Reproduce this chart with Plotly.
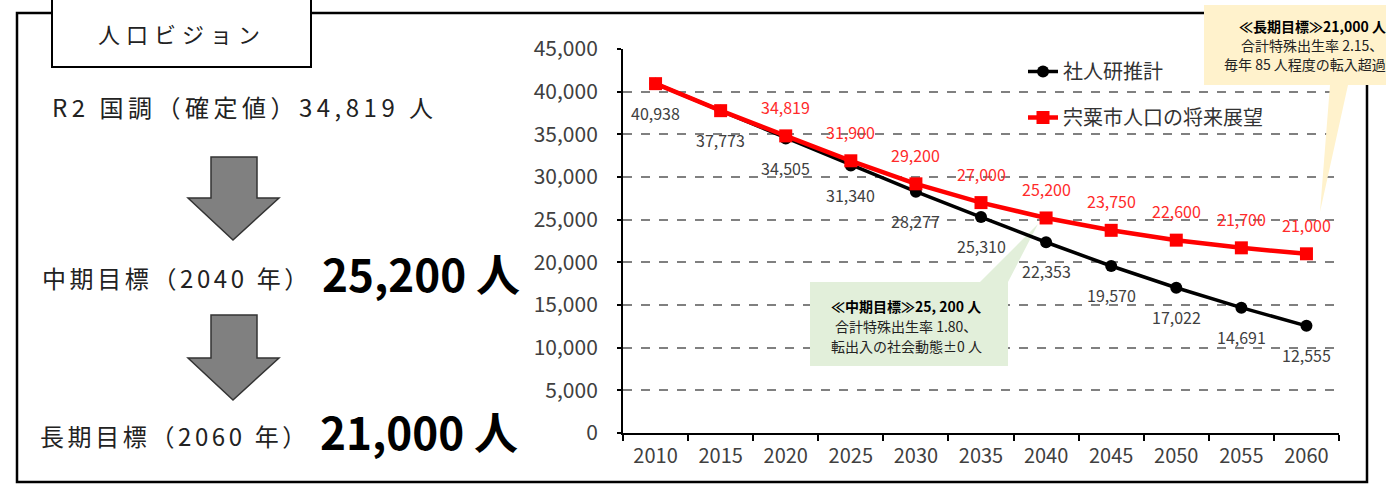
import plotly.graph_objects as go

years = ["2010", "2015", "2020", "2025", "2030", "2035", "2040", "2045", "2050", "2055", "2060"]
ipss = [40938, 37773, 34505, 31340, 28277, 25310, 22353, 19570, 17022, 14691, 12555]
vision = [40938, 37773, 34819, 31900, 29200, 27000, 25200, 23750, 22600, 21700, 21000]
vision_label_from = 2  # red labels start at 2020
y_ticks = [0, 5000, 10000, 15000, 20000, 25000, 30000, 35000, 40000, 45000]
series_names = ["社人研推計", "宍粟市人口の将来展望"]

W, H = 1386, 484
L, R, T, B = 623, 1339, 49, 433
FONT = "Noto Sans CJK JP"
Y_MAX = 45000


def px(x):
    return (x - L) / (R - L)


def py(y):
    return (B - y) / (B - T)


def path(pts):
    return "M " + " L ".join(f"{px(a):.5f},{py(b):.5f}" for a, b in pts) + " Z"


def data_path(pts):
    n = len(years)
    return "M " + " L ".join(
        f"{px(a) * n - 0.5:.5f},{py(b) * Y_MAX:.2f}" for a, b in pts) + " Z"


fig = go.Figure()
fig.add_trace(go.Scatter(
    x=years, y=ipss, name=series_names[0], mode="lines+markers",
    line=dict(color="black", width=3.5),
    marker=dict(symbol="circle", size=12, color="black"),
    legendgroup="a",
))
fig.add_trace(go.Scatter(
    x=years, y=vision, name=series_names[1], mode="lines+markers",
    line=dict(color="#FF0000", width=4.5),
    marker=dict(symbol="square", size=13, color="#FF0000"),
    legendgroup="b",
))

ann = []
for i, v in enumerate(ipss):
    ann.append(dict(x=i, y=v, xref="x", yref="y", text=f"{v:,}", showarrow=False,
                    yshift=-29, font=dict(family=FONT, size=16, color="#404040")))
for i, v in enumerate(vision):
    if i >= vision_label_from:
        ann.append(dict(x=i, y=v, xref="x", yref="y", text=f"{v:,}", showarrow=False,
                        yshift=29, font=dict(family=FONT, size=16, color="#FF2A2A")))


def paper_text(x, y, text, size, anchor="left", bold=False, color="#222222", spacing=None):
    t = f"<b>{text}</b>" if bold else text
    if spacing:
        t = f'<span style="letter-spacing:{spacing}px">{t}</span>'
    return dict(x=px(x), y=py(y), xref="paper", yref="paper", text=t, showarrow=False,
                xanchor=anchor, yanchor="middle", font=dict(family=FONT, size=size, color=color))


ann += [
    paper_text(182, 33, "人口ビジョン", 22, anchor="center", spacing=6),
    paper_text(50, 107, "R2 国調（確定値）34,819 人", 24, spacing=4.5),
    paper_text(40, 277, "中期目標（2040 年）", 24, spacing=3.6),
    paper_text(320, 273, "25,200 人", 44, bold=True, color="black"),
    paper_text(38, 435, "長期目標（2060 年）", 24, spacing=3.6),
    paper_text(318, 431, "21,000 人", 44, bold=True, color="black"),
    paper_text(906, 306, "≪中期目標≫25, 200 人", 14, anchor="center", bold=True, color="black"),
    paper_text(906, 326, "合計特殊出生率 1.80、", 14, anchor="center"),
    paper_text(906, 346, "転出入の社会動態±0 人", 14, anchor="center"),
    paper_text(1312, 26, "≪長期目標≫21,000 人", 14, anchor="center", bold=True, color="black"),
    paper_text(1312, 45, "合計特殊出生率 2.15、", 14, anchor="center"),
    paper_text(1305, 64, "毎年 85 人程度の転入超過", 14, anchor="center"),
]

arrow1 = [(211, 157), (257, 157), (257, 198), (279, 198), (233, 240), (188, 198), (211, 198)]
arrow2 = [(211, 315), (257, 315), (257, 358), (279, 358), (233, 400), (188, 358), (211, 358)]

shapes = [
    dict(type="rect", xref="paper", yref="paper", x0=px(17), x1=px(1367), y0=py(13), y1=py(482),
         line=dict(color="black", width=2.5), fillcolor="rgba(0,0,0,0)", layer="below"),
    dict(type="rect", xref="paper", yref="paper", x0=px(52), x1=px(311), y0=py(-5), y1=py(67),
         line=dict(color="black", width=2), fillcolor="white", layer="below"),
    dict(type="path", xref="paper", yref="paper", path=path(arrow1),
         line=dict(color="#333333", width=1.5), fillcolor="#808080", layer="below"),
    dict(type="path", xref="paper", yref="paper", path=path(arrow2),
         line=dict(color="#333333", width=1.5), fillcolor="#808080", layer="below"),
    dict(type="path", xref="x", yref="y",
         path=data_path([(810, 282), (980, 282), (1038, 224), (1008, 282), (1008, 366), (810, 366)]),
         line=dict(width=0), fillcolor="#E2EFDA", layer="between"),
    dict(type="path", xref="paper", yref="paper",
         path=path([(1204, 5), (1400, 5), (1400, 85), (1348, 85), (1320, 212), (1330, 85), (1204, 85)]),
         line=dict(width=0), fillcolor="#FFF2CC", layer="above"),
]

fig.update_layout(
    width=W, height=H,
    margin=dict(l=L, r=W - R, t=T, b=H - B, autoexpand=False),
    paper_bgcolor="white", plot_bgcolor="white",
    font=dict(family=FONT, color="#404040"),
    showlegend=True,
    legend=dict(x=px(1023), y=py(52), xanchor="left", yanchor="top",
                bgcolor="rgba(0,0,0,0)", font=dict(family=FONT, size=20, color="#333333"),
                tracegroupgap=17),
    annotations=ann,
    shapes=shapes,
)
fig.update_xaxes(
    type="category", range=[-0.5, 10.5], showline=True, linecolor="black", linewidth=2,
    ticks="outside", tickson="boundaries", ticklen=6, tickwidth=1.5, tickcolor="black",
    ticklabelstandoff=4,
    showgrid=False, tickfont=dict(family=FONT, size=20, color="#404040"),
)
fig.update_yaxes(
    range=[0, Y_MAX], tickvals=y_ticks, ticktext=[f"{v:,}" for v in y_ticks],
    showline=True, linecolor="black", linewidth=2,
    ticks="outside", ticklen=4, tickwidth=1.5, tickcolor="black",
    ticklabelstandoff=15,
    showgrid=True, gridcolor="#808080", griddash="dash", gridwidth=1.5,
    zeroline=False, tickfont=dict(family=FONT, size=21, color="#404040"),
)

fig.write_html("out.html", config={"displayModeBar": False},
               post_script="document.body.style.margin='0';")
